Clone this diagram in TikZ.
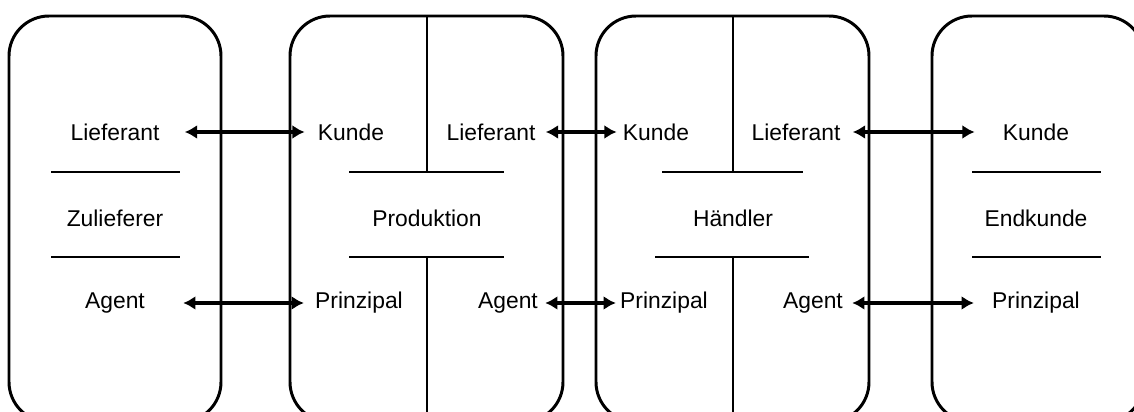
\documentclass[tikz,border=0pt]{standalone}
\usepackage{fontspec}
\setmainfont{Liberation Sans}
\usetikzlibrary{arrows.meta}
\tikzset{
  rolle/.style={inner sep=0pt, font=\fontsize{13pt}{15pt}\selectfont},
  kasten/.style={line width=1.7pt, rounded corners=0.8cm},
  trenn/.style={line width=1.3pt},
  pfeil/.style={line width=1.8pt, {Latex[length=7pt,width=8pt]}-{Latex[length=7pt,width=8pt]}}
}
\begin{document}
\begin{tikzpicture}[x=0.02cm,y=-0.02cm]
      \useasboundingbox (0,0) rectangle (1134,412);
      \clip (0,0) rectangle (1134,412);
      % Kaesten
      \draw[kasten] (9,16) rectangle (221,422);
      \draw[kasten] (290,16) rectangle (563,422);
      \draw[kasten] (596,16) rectangle (869,422);
      \draw[kasten] (932,16) rectangle (1144,422);
      % Zulieferer
      \draw
        (115,132) node[rolle] (lief1){Lieferant}
        (115,218) node[rolle] (zul){Zulieferer}
        (115,303) node[rolle] (agent1){Agent};
      \draw[trenn] (51,172) -- (180,172) (51,257) -- (180,257);
      % Produktion
      \draw
        (351,132) node[rolle] (kunde2){Kunde}
        (491,132) node[rolle] (lief2){Lieferant}
        (427,218) node[rolle] (prod){Produktion}
        (359,303) node[rolle] (prinz2){Prinzipal}
        (508,303) node[rolle] (agent2){Agent};
      \draw[trenn] (349,172) -- (504,172) (349,257) -- (504,257);
      \draw[trenn] (427,16) -- (427,172) (427,257) -- (427,420);
      % Haendler
      \draw
        (656,132) node[rolle] (kunde3){Kunde}
        (796,132) node[rolle] (lief3){Lieferant}
        (733,218) node[rolle] (haendler){Händler}
        (664,303) node[rolle] (prinz3){Prinzipal}
        (813,303) node[rolle] (agent3){Agent};
      \draw[trenn] (662,172) -- (803,172) (655,257) -- (809,257);
      \draw[trenn] (733,16) -- (733,172) (733,257) -- (733,420);
      % Endkunde
      \draw
        (1036,132) node[rolle] (kunde4){Kunde}
        (1036,218) node[rolle] (end){Endkunde}
        (1036,303) node[rolle] (prinz4){Prinzipal};
      \draw[trenn] (972,172) -- (1101,172) (972,257) -- (1101,257);
      % Pfeilenden
      \coordinate (a1) at ([xshift=0.5cm]lief1.east);
      \coordinate (b1) at ([xshift=-0.26cm]kunde2.west);
      \coordinate (a2) at ([xshift=0.2cm]lief2.east);
      \coordinate (b2) at ([xshift=-0.12cm]kunde3.west);
      \coordinate (a3) at ([xshift=0.24cm]lief3.east);
      \coordinate (b3) at ([xshift=-0.56cm]kunde4.west);
      \coordinate (c1) at ([xshift=0.76cm]agent1.east);
      \coordinate (d1) at ([xshift=-0.22cm]prinz2.west);
      \coordinate (c2) at ([xshift=0.14cm]agent2.east);
      \coordinate (d2) at ([xshift=-0.08cm]prinz3.west);
      \coordinate (c3) at ([xshift=0.18cm]agent3.east);
      \coordinate (d3) at ([xshift=-0.36cm]prinz4.west);
      \begin{scope}[pfeil]
        \draw (a1) to (b1);
        \draw (a2) to (b2);
        \draw (a3) to (b3);
        \draw (c1) to (d1);
        \draw (c2) to (d2);
        \draw (c3) to (d3);
      \end{scope}
    \end{tikzpicture}
\end{document}
